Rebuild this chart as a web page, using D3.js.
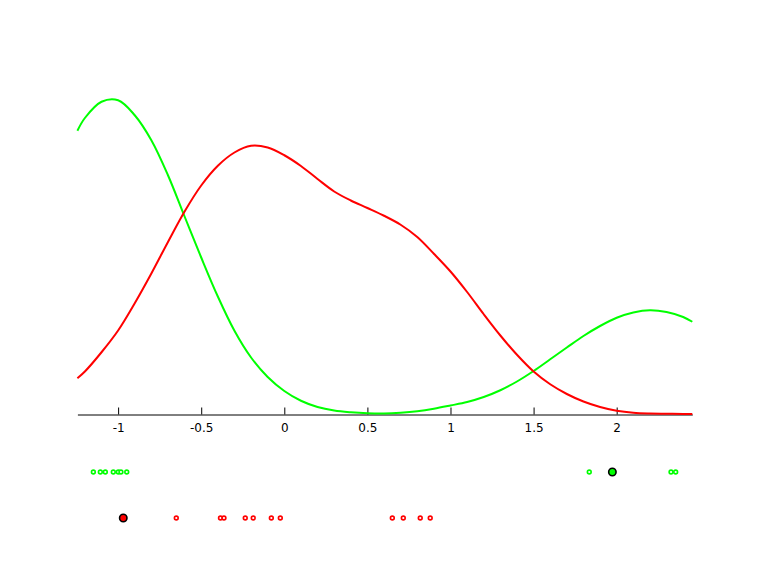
<!DOCTYPE html>
<html>
<head>
<meta charset="utf-8">
<script src="https://cdn.jsdelivr.net/npm/d3@7"></script>
<style>
  html, body { margin: 0; padding: 0; background: #fff; }
  svg { display: block; }
</style>
</head>
<body>
<svg id="chart" width="768" height="576"></svg>
<script>
// ---- data ----
const gridX = [-1.245, -1.2, -1.1, -1.0, -0.9, -0.8, -0.7, -0.6, -0.5, -0.4, -0.3, -0.2, -0.1, 0.0,
  0.1, 0.2, 0.3, 0.4, 0.5, 0.6, 0.7, 0.8, 0.9, 1.0, 1.1, 1.2, 1.3, 1.4, 1.5, 1.6, 1.7, 1.8, 1.9,
  2.0, 2.1, 2.2, 2.3, 2.4, 2.455];
const greenDensity = [1.133, 1.184, 1.249, 1.255, 1.195, 1.095, 0.955, 0.790, 0.626, 0.470, 0.333,
  0.226, 0.148, 0.092, 0.053, 0.028, 0.014, 0.007, 0.003, 0.002, 0.005, 0.011, 0.021, 0.034, 0.048,
  0.068, 0.095, 0.130, 0.172, 0.219, 0.266, 0.312, 0.352, 0.385, 0.406, 0.415, 0.408, 0.388, 0.369];
const redDensity = [0.143, 0.170, 0.247, 0.334, 0.443, 0.562, 0.688, 0.810, 0.914, 0.993, 1.046,
  1.073, 1.066, 1.035, 0.992, 0.940, 0.890, 0.854, 0.824, 0.793, 0.757, 0.708, 0.641, 0.570, 0.488,
  0.399, 0.314, 0.237, 0.170, 0.119, 0.080, 0.050, 0.028, 0.013, 0.005, 0.002, 0.001, 0.000, 0.000];
const greenPoints = [-1.149, -1.107, -1.077, -1.029, -0.999, -0.983, -0.948, 1.835, 2.327, 2.355];
const greenHighlight = [1.974];
const redPoints = [-0.650, -0.384, -0.363, -0.235, -0.187, -0.078, -0.024, 0.650, 0.716, 0.818, 0.878];
const redHighlight = [-0.969];
const tickValues = [-1, -0.5, 0, 0.5, 1, 1.5, 2];
const tickLabels = ["-1", "-0.5", "0", "0.5", "1", "1.5", "2"];

// ---- layout ----
const svg = d3.select("#chart");
const x = d3.scaleLinear().domain([-1.245, 2.455]).range([77.4, 692.3]);
const y = d3.scaleLinear().domain([0, 1.6]).range([414, 14]);
const baseY = 414.5;
const greenRowY = 472;
const redRowY = 518;

// axis
const axis = d3.axisBottom(x)
  .tickValues(tickValues)
  .tickFormat((d, i) => tickLabels[i])
  .tickSizeInner(-7)
  .tickSizeOuter(0)
  .tickPadding(9);
const gAxis = svg.append("g")
  .attr("transform", `translate(0,${baseY})`)
  .call(axis);
gAxis.select(".domain").attr("stroke", "#000").attr("stroke-width", 1);
gAxis.selectAll(".tick line").attr("stroke", "#000").attr("stroke-width", 1);
gAxis.selectAll(".tick text")
  .attr("fill", "#000")
  .style("font-family", "'DejaVu Sans', sans-serif")
  .style("font-size", "12px");

// curves
const line = (vals) => d3.line()
  .x((d, i) => x(gridX[i]))
  .y(d => y(d))
  .curve(d3.curveCatmullRom.alpha(0.5))(vals);

svg.append("path")
  .attr("d", line(greenDensity))
  .attr("fill", "none")
  .attr("stroke", "#00ff00")
  .attr("stroke-width", 2);
svg.append("path")
  .attr("d", line(redDensity))
  .attr("fill", "none")
  .attr("stroke", "#ff0000")
  .attr("stroke-width", 2);

// rug points
function drawPoints(data, rowY, color) {
  svg.append("g").selectAll("circle").data(data).join("circle")
    .attr("cx", d => x(d))
    .attr("cy", rowY)
    .attr("r", 1.9)
    .attr("fill", "#fff")
    .attr("stroke", color)
    .attr("stroke-width", 1.6);
}
function drawHighlight(data, rowY, color) {
  svg.append("g").selectAll("circle").data(data).join("circle")
    .attr("cx", d => x(d))
    .attr("cy", rowY)
    .attr("r", 3.7)
    .attr("fill", color)
    .attr("stroke", "#000")
    .attr("stroke-width", 1.6);
}
drawPoints(greenPoints, greenRowY, "#00ff00");
drawHighlight(greenHighlight, greenRowY, "#00ff00");
drawPoints(redPoints, redRowY, "#ff0000");
drawHighlight(redHighlight, redRowY, "#ff0000");
</script>
</body>
</html>
